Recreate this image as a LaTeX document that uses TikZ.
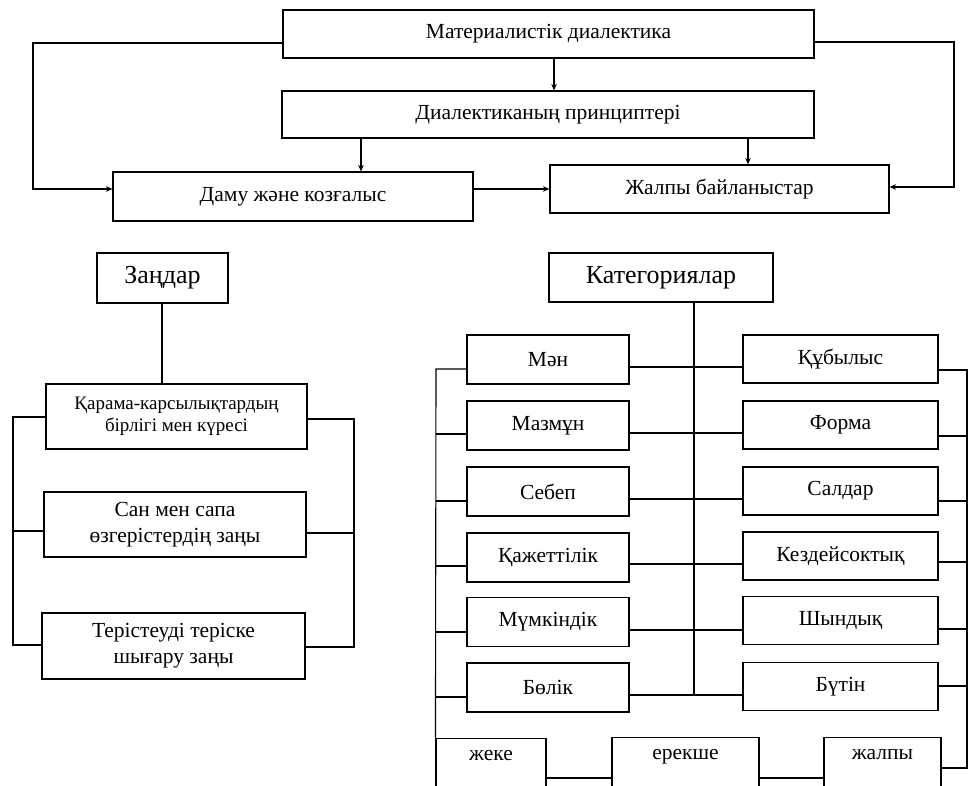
\documentclass[tikz,border=0pt]{standalone}
\usepackage{fontspec}
\setmainfont{Liberation Serif}
\usetikzlibrary{arrows.meta}
\begin{document}
\begin{tikzpicture}[x=1pt,y=-1pt,
  box/.style={draw,line width=1.1pt,rectangle,inner sep=0pt,align=center,
    font=\fontsize{21.5}{26}\selectfont},
  headbox/.style={box,font=\fontsize{26}{28}\selectfont},
  smallbox/.style={box,font=\fontsize{19}{22.5}\selectfont},
  lowbox/.style={box,anchor=north,text height=14pt,text depth=60pt,inner ysep=8pt},
  ln/.style={line width=1.1pt},
  arr/.style={ln,-{Stealth[length=6.5pt,width=5.5pt]}}]
\useasboundingbox (0,0) rectangle (971,786);
\clip (0,0) rectangle (971,786);
% top part
\node[box,minimum width=531pt,minimum height=48pt] (mat) at (548.5,34) {Материалистік диалектика};
\node[box,minimum width=532pt,minimum height=47pt] (dial) at (548,114.5) {Диалектиканың принциптері};
\node[box,minimum width=360pt,minimum height=49pt] (damu) at (293,196.5) {Даму және козғалыс};
\node[box,minimum width=339pt,minimum height=48pt] (zhb) at (719.5,189) {Жалпы байланыстар};
\draw[arr] (mat.south -| 554,0) -- (dial.north -| 554,0);
\draw[arr] (mat.west |- 0,43) -- (33,43) -- (33,189) -- (damu.west |- 0,189);
\draw[arr] (mat.east |- 0,42) -- (954,42) -- (954,187) -- (zhb.east |- 0,187);
\draw[arr] (dial.south -| 361,0) -- (damu.north -| 361,0);
\draw[arr] (dial.south -| 748,0) -- (zhb.north -| 748,0);
\draw[arr] (damu.east |- 0,189) -- (zhb.west |- 0,189);
% laws
\node[headbox,minimum width=131pt,minimum height=50pt] (zan) at (162.5,278) {Заңдар};
\node[smallbox,minimum width=261pt,minimum height=65pt] (k1) at (176.5,416.5) {Қарама-карсылықтардың\\бірлігі мен күресі};
\node[box,minimum width=262pt,minimum height=65pt] (k2) at (175,524.5) {Сан мен сапа\\өзгерістердің заңы};
\node[box,minimum width=263pt,minimum height=66pt] (k3) at (173.5,646) {Терістеуді теріске\\шығару заңы};
\draw[ln] (zan.south -| 162,0) -- (k1.north -| 162,0);
\draw[ln] (k1.west |- 0,417) -- (13,417) -- (13,645) -- (k3.west |- 0,645);
\draw[ln] (13,531) -- (k2.west |- 0,531);
\draw[ln] (k1.east |- 0,419) -- (354,419) -- (354,647) -- (k3.east |- 0,647);
\draw[ln] (354,533) -- (k2.east |- 0,533);
% categories
\node[headbox,minimum width=224pt,minimum height=49pt] (kat) at (661,277.5) {Категориялар};
\foreach \n/\t/\y in {l1/Мән/359.5,l2/Мазмұн/425.5,l3/Себеп/491.5,l4/Қажеттілік/557.5,l5/Мүмкіндік/622,l6/Бөлік/687.5}
  \node[box,minimum width=162pt,minimum height=49pt] (\n) at (548,\y) {\t};
\foreach \n/\t/\y in {r1/Құбылыс/359,r2/Форма/425,r3/Салдар/491,r4/Кездейсоктық/556,r5/Шындық/620.5,r6/Бүтін/686.5}
  \node[box,minimum width=195pt,minimum height=48pt] (\n) at (840.5,\y) {\t};
\node[lowbox,minimum width=110pt] (zheke) at (491,738) {жеке};
\node[lowbox,minimum width=147pt] (ereks) at (685.5,737) {ерекше};
\node[lowbox,minimum width=117pt] (zhal) at (882.5,737) {жалпы};
\draw[ln] (kat.south -| 694,0) -- (694,695);
\foreach \a/\b/\y in {l1/r1/367,l2/r2/433,l3/r3/499,l4/r4/564,l5/r5/630,l6/r6/695}
  \draw[ln] (\a.east |- 0,\y) -- (\b.west |- 0,\y);
\draw[ln] (l1.west |- 0,369) -- (436,369) -- (zheke.north west);
\foreach \a/\y in {l2/434,l3/501,l4/566,l5/632,l6/697}
  \draw[ln] (436,\y) -- (\a.west |- 0,\y);
\draw[ln] (r1.east |- 0,370) -- (967,370) -- (967,768) -- (zhal.east |- 0,768);
\foreach \a/\y in {r2/436,r3/501,r4/562,r5/629,r6/686}
  \draw[ln] (967,\y) -- (\a.east |- 0,\y);
\draw[ln] (zheke.east |- 0,778) -- (ereks.west |- 0,778);
\draw[ln] (ereks.east |- 0,778) -- (zhal.west |- 0,778);
\end{tikzpicture}
\end{document}
